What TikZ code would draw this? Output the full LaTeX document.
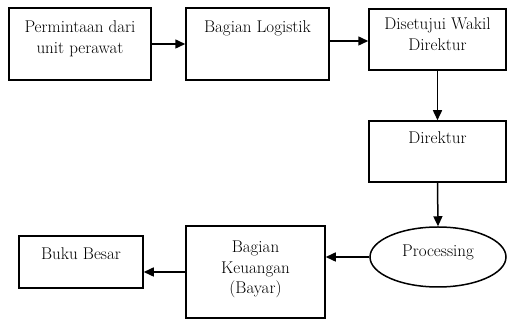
\documentclass[tikz,border=0pt]{standalone}
\usetikzlibrary{arrows.meta,shapes.geometric}

\tikzset{
  kotak/.style={draw, rectangle, inner sep=0pt},
  teks/.style={anchor=north, align=center, inner sep=0pt},
  panah/.style={->}
}

\begin{document}
\begin{tikzpicture}[x=1pt, y=-1pt, >={Triangle[length=10pt,width=9pt]},
    line width=1.5pt, font=\fontsize{17}{20.5}\selectfont]
    \useasboundingbox (0,0) rectangle (507,320);

    % kotak-kotak alur
    \node[kotak, minimum width=142pt, minimum height=72pt] (minta) at (80,44) {};
    \node[kotak, minimum width=143pt, minimum height=72pt] (logistik) at (257.5,44) {};
    \node[kotak, minimum width=137pt, minimum height=61pt] (wakil) at (437.5,39.5) {};
    \node[kotak, minimum width=137pt, minimum height=61pt] (direktur) at (437.5,151.5) {};
    \node[draw, ellipse, minimum width=136pt, minimum height=60pt, inner sep=0pt,
      text height=12pt, text depth=12pt] (proses) at (438,257) {Processing};
    \node[kotak, minimum width=139pt, minimum height=92pt] (bayar) at (255.5,272) {};
    \node[kotak, minimum width=124pt, minimum height=52pt] (buku) at (81,262) {};

    % isi teks
    \node[teks] (minta-t) at ([yshift=-13pt]minta.north) {Permintaan dari\\unit perawat};
    \node[teks] (logistik-t) at ([yshift=-13pt]logistik.north) {Bagian Logistik};
    \node[teks] (wakil-t) at ([yshift=-9pt]wakil.north) {Disetujui Wakil\\Direktur};
    \node[teks] (direktur-t) at ([yshift=-11pt]direktur.north) {Direktur};
    \node[teks] (bayar-t) at ([yshift=-15pt]bayar.north) {Bagian\\Keuangan\\(Bayar)};
    \node[teks] (buku-t) at ([yshift=-12pt]buku.north) {Buku Besar};

    % panah
    \draw[panah] (minta.east) -- (minta.east -| logistik.west);
    \draw[panah] ([yshift=3pt]logistik.east) -- ([yshift=3pt]logistik.east -| wakil.west);
    \draw[panah] (wakil.south) -- (direktur.north);
    \draw[panah] (direktur.south) -- (proses.north);
    \draw[panah] (proses.west) -- (proses.west -| bayar.east);
    \draw[panah] (bayar.west) -- (bayar.west -| buku.east);
\end{tikzpicture}
\end{document}
